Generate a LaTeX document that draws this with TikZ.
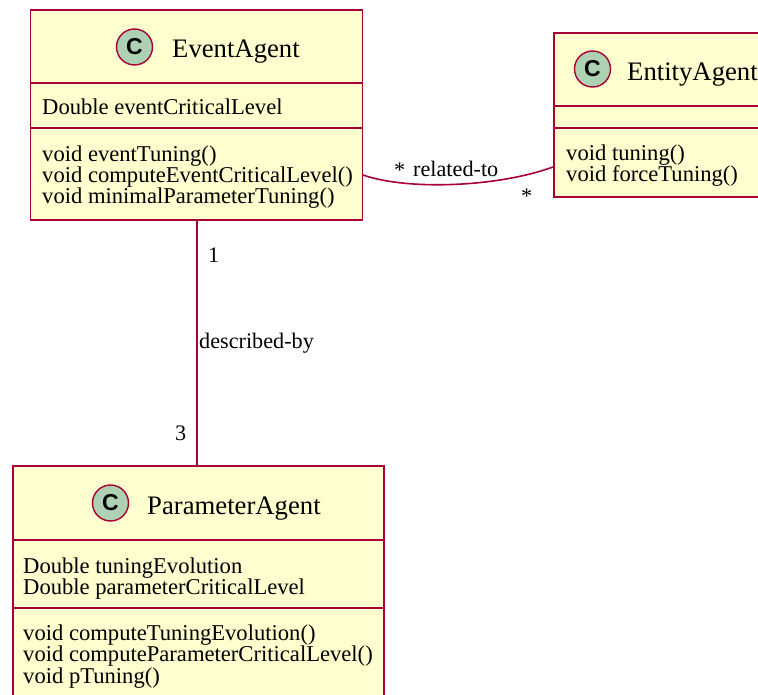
\documentclass[tikz,border=0pt]{standalone}
\usepackage{fontspec}
\setmainfont{Liberation Serif}
\newfontfamily\badgefont{Liberation Sans}
\definecolor{umlborder}{HTML}{A80036}
\definecolor{umlfill}{HTML}{FEFECE}
\definecolor{umlbadge}{HTML}{ADD1B2}
\begin{document}
\begin{tikzpicture}[x=1pt,y=-1pt,
  classbox/.style={draw=umlborder, fill=umlfill, line width=1.6pt, rectangle,
    inner sep=0pt, anchor=north west},
  sep/.style={draw=umlborder, line width=1.6pt},
  badge/.style={circle, draw=umlborder, fill=umlbadge, line width=1.4pt,
    minimum size=36pt, inner sep=0pt,
    font=\badgefont\bfseries\fontsize{23}{23}\selectfont},
  title/.style={anchor=base west, inner sep=0pt, font=\fontsize{26.7}{28}\selectfont},
  member/.style={anchor=base west, inner sep=0pt, font=\fontsize{22.6}{22}\selectfont},
  lbl/.style={anchor=base west, inner sep=0pt, font=\fontsize{22.2}{22}\selectfont},
  assoc/.style={draw=umlborder, line width=1.6pt}
]
\useasboundingbox (0,0) rectangle (758,695);
\clip (0,0) rectangle (758,695);
\fill[white] (0,0) rectangle (758,695);

% EventAgent
\node[classbox, minimum width=332pt, minimum height=210pt] (ea) at (29.5,9) {};
\draw[sep] (ea.west |- 0,83) -- (ea.east |- 0,83);
\draw[sep] (ea.west |- 0,128) -- (ea.east |- 0,128);
\node[badge] (ea-c) at (134.5,47) {C};
\node[title] (ea-t) at (172,58) {EventAgent};
\node[member] (ea-a1) at (42,115) {Double eventCriticalLevel};
\node[member] (ea-m1) at (42,161.5) {void eventTuning()};
\node[member] (ea-m2) at (42,182.5) {void computeEventCriticalLevel()};
\node[member] (ea-m3) at (42,204) {void minimalParameterTuning()};

% EntityAgent
\node[classbox, minimum width=300pt, minimum height=164pt] (en) at (553,32) {};
\draw[sep] (en.west |- 0,106) -- (en.east |- 0,106);
\draw[sep] (en.west |- 0,128) -- (en.east |- 0,128);
\node[badge] (en-c) at (592.5,69) {C};
\node[title] (en-t) at (627,81) {EntityAgent};
\node[member] (en-m1) at (566,160.5) {void tuning()};
\node[member] (en-m2) at (566,182) {void forceTuning()};

% ParameterAgent
\node[classbox, minimum width=371pt, minimum height=260pt] (pa) at (12,465) {};
\draw[sep] (pa.west |- 0,540) -- (pa.east |- 0,540);
\draw[sep] (pa.west |- 0,608) -- (pa.east |- 0,608);
\node[badge] (pa-c) at (110.5,503) {C};
\node[title] (pa-t) at (147,514) {ParameterAgent};
\node[member] (pa-a1) at (23,573) {Double tuningEvolution};
\node[member] (pa-a2) at (23,594) {Double parameterCriticalLevel};
\node[member] (pa-m1) at (23,640.5) {void computeTuningEvolution()};
\node[member] (pa-m2) at (23,661.5) {void computeParameterCriticalLevel()};
\node[member] (pa-m3) at (23,683) {void pTuning()};

% related-to association
\coordinate (rel-a) at (ea.east |- 0,175);
\coordinate (rel-b) at (en.west |- 0,167);
\draw[assoc] (rel-a) .. controls (405,190) and (495,188) .. (rel-b);
\node[lbl] (rel-m1) at (394,178) {*};
\node[lbl] (rel-l) at (413,177) {related-to};
\node[lbl] (rel-m2) at (521,204) {*};

% described-by association
\coordinate (desc-a) at (197,0 |- ea.south);
\coordinate (desc-b) at (197,0 |- pa.north);
\draw[assoc] (desc-a) -- (desc-b);
\node[lbl] (desc-m1) at (208,263) {1};
\node[lbl] (desc-l) at (199,348) {described-by};
\node[lbl] (desc-m2) at (175,440) {3};
\end{tikzpicture}
\end{document}
